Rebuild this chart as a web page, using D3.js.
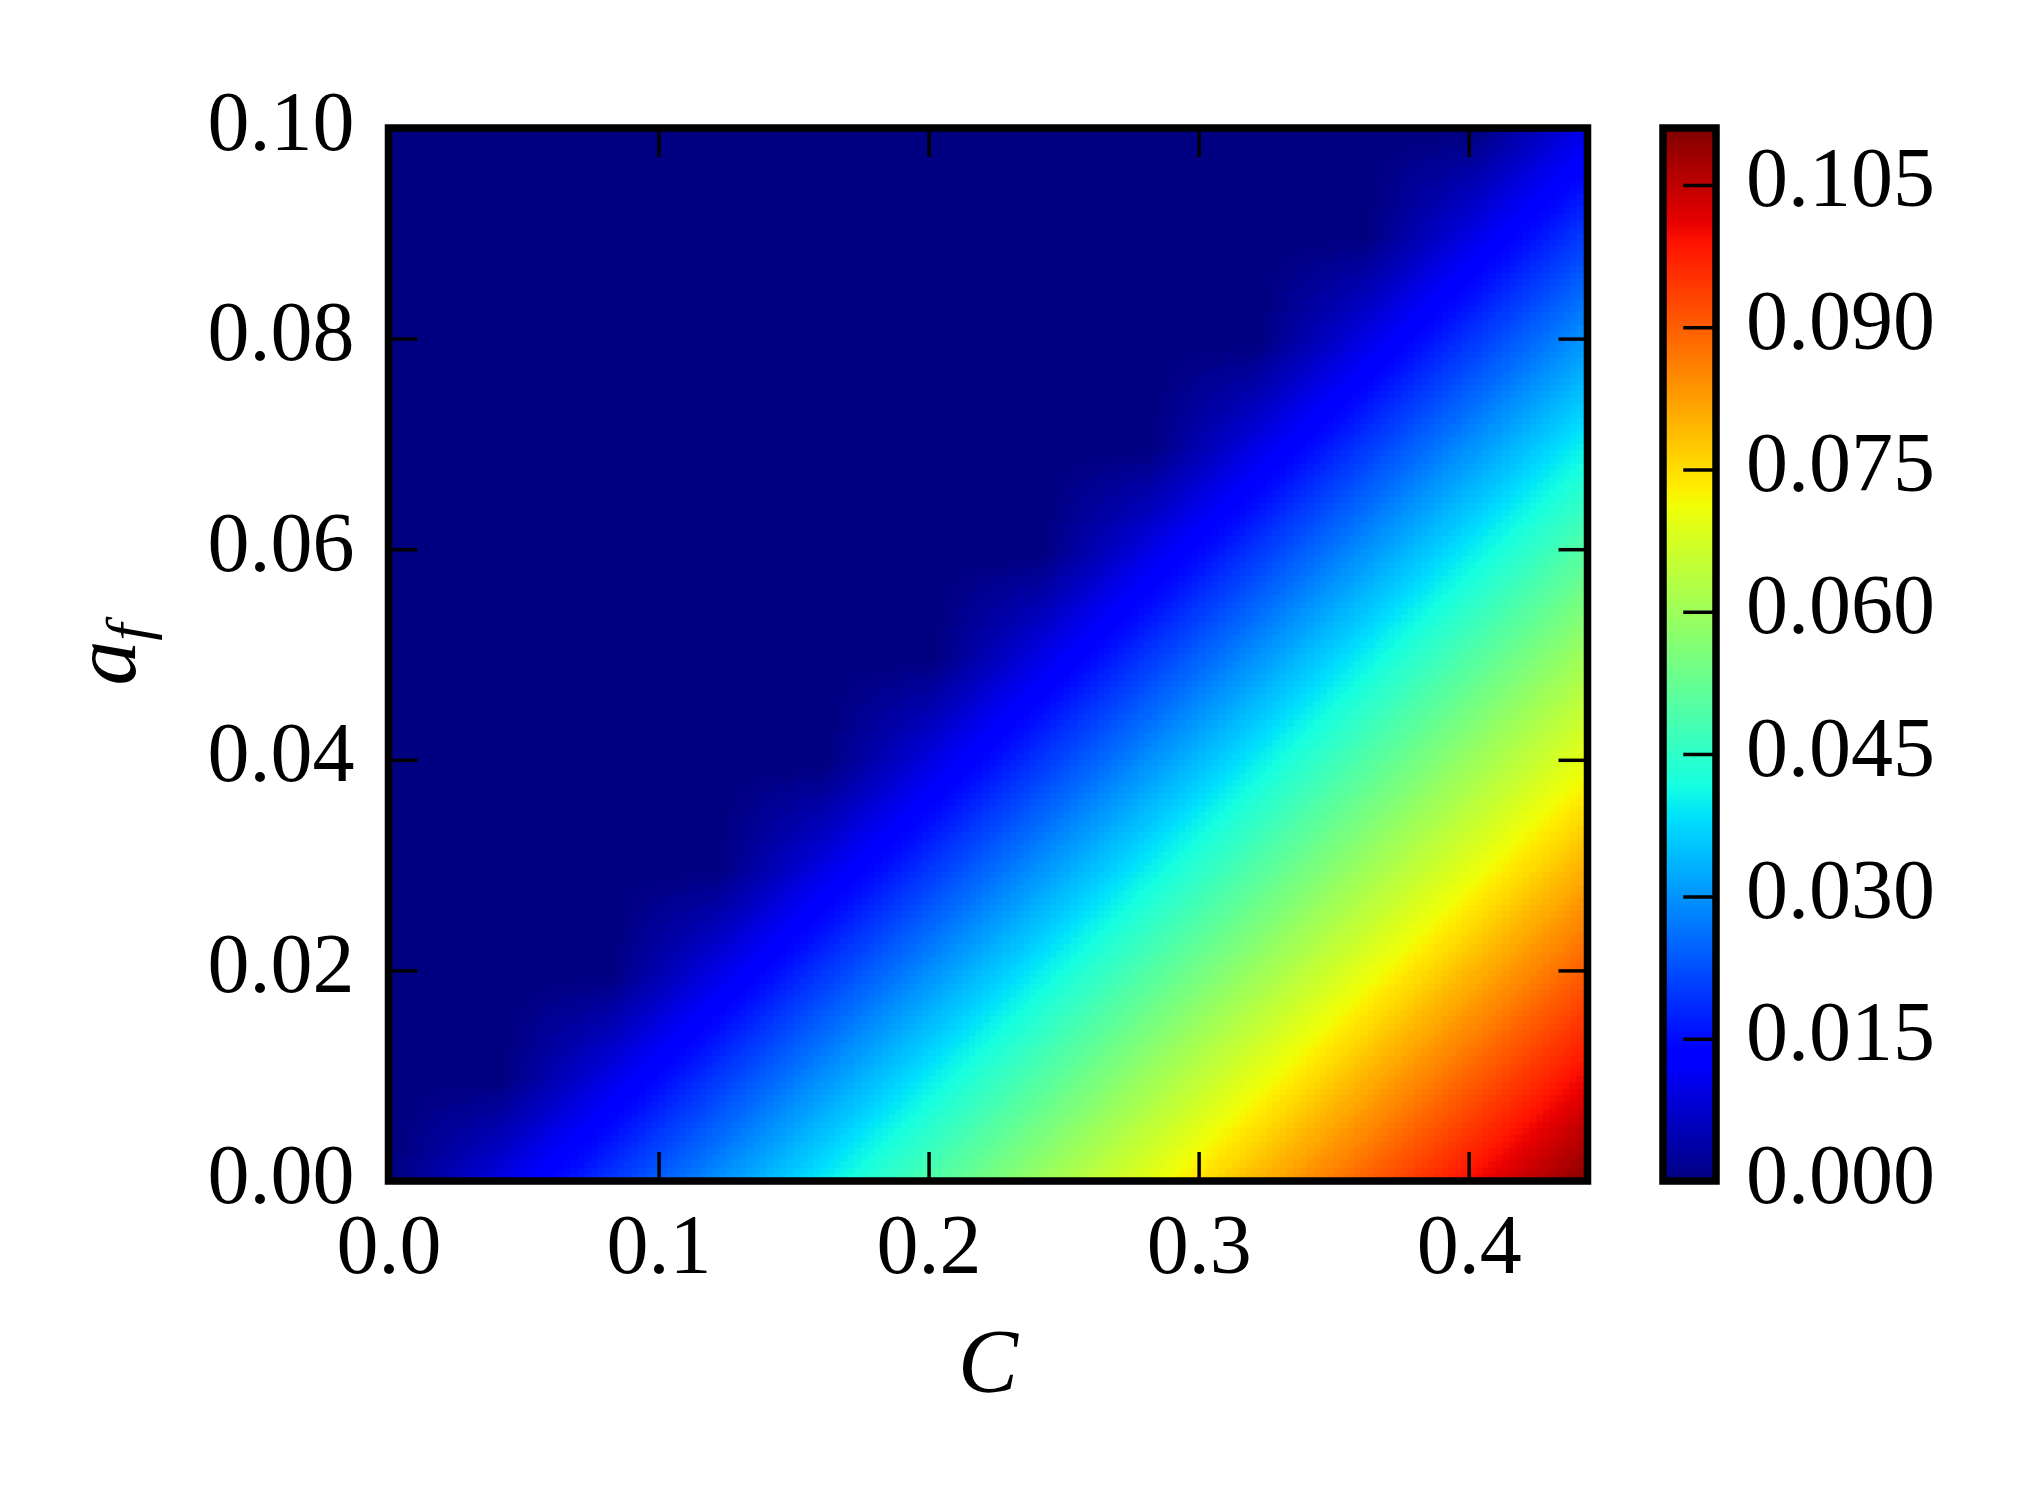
<!DOCTYPE html>
<html>
<head>
<meta charset="utf-8">
<script src="https://cdn.jsdelivr.net/npm/d3@7"></script>
<style>
  body { margin: 0; background: #fff; }
  text { font-family: "Liberation Serif", "DejaVu Serif", serif; fill: #000; }
</style>
</head>
<body>
<div id="chart"></div>
<script>
// grid: values[j][i] is the colour value at a_f = afGrid[j], C = cGrid[i]
var cGrid = [0, 0.04, 0.08, 0.12, 0.16, 0.20, 0.24, 0.28, 0.32, 0.36, 0.40, 0.44];
var afGrid = [0, 0.01, 0.02, 0.03, 0.04, 0.05, 0.06, 0.07, 0.08, 0.09, 0.10];
var values = [
  [0, 0.010, 0.020, 0.030, 0.040, 0.050, 0.060, 0.070, 0.080, 0.090, 0.100, 0.110],
  [0, 0,     0.010, 0.020, 0.030, 0.040, 0.050, 0.060, 0.070, 0.080, 0.090, 0.100],
  [0, 0,     0,     0.010, 0.020, 0.030, 0.040, 0.050, 0.060, 0.070, 0.080, 0.090],
  [0, 0,     0,     0,     0.010, 0.020, 0.030, 0.040, 0.050, 0.060, 0.070, 0.080],
  [0, 0,     0,     0,     0,     0.010, 0.020, 0.030, 0.040, 0.050, 0.060, 0.070],
  [0, 0,     0,     0,     0,     0,     0.010, 0.020, 0.030, 0.040, 0.050, 0.060],
  [0, 0,     0,     0,     0,     0,     0,     0.010, 0.020, 0.030, 0.040, 0.050],
  [0, 0,     0,     0,     0,     0,     0,     0,     0.010, 0.020, 0.030, 0.040],
  [0, 0,     0,     0,     0,     0,     0,     0,     0,     0.010, 0.020, 0.030],
  [0, 0,     0,     0,     0,     0,     0,     0,     0,     0,     0.010, 0.020],
  [0, 0,     0,     0,     0,     0,     0,     0,     0,     0,     0,     0.010]
];
var xTicks = [0, 0.1, 0.2, 0.3, 0.4];
var yTicks = [0, 0.02, 0.04, 0.06, 0.08, 0.10];
var cbTicks = [0, 0.015, 0.030, 0.045, 0.060, 0.075, 0.090, 0.105];
var cMax = 0.444, afMax = 0.1, vMax = 0.111;

// jet colormap breakpoints
var jetStops = [0, 0.11, 0.125, 0.34, 0.35, 0.375, 0.64, 0.65, 0.66, 0.89, 0.91, 1];
var jetColors = ["rgb(0,0,128)", "rgb(0,0,255)", "rgb(0,0,255)", "rgb(0,219,255)",
  "rgb(0,230,247)", "rgb(21,255,226)", "rgb(239,255,8)", "rgb(247,246,0)",
  "rgb(255,236,0)", "rgb(255,19,0)", "rgb(232,0,0)", "rgb(128,0,0)"];

var plotL = 388.5, plotR = 1587.5, plotT = 128, plotB = 1181,
    cbLeft = 1663, cbRight = 1716,
    tickLen = 29, frameW = 7.5, tickW = 3.5, fontSize = 84;

var x = d3.scaleLinear().domain([0, cMax]).range([plotL, plotR]);
var y = d3.scaleLinear().domain([0, afMax]).range([plotB, plotT]);
var yc = d3.scaleLinear().domain([0, vMax]).range([plotB, plotT]);
var color = d3.scaleLinear()
  .domain(jetStops.map(function(t) { return t * vMax; }))
  .range(jetColors)
  .clamp(true);
var level = d3.scaleLinear().domain([0, vMax]).range([0, 255]).clamp(true);

var svg = d3.select("#chart").append("svg")
  .attr("width", 2025)
  .attr("height", 1500)
  .style("background", "#fff");

// heatmap: grid values stored as grey levels, smoothed by the browser when
// scaled up, then every pixel is coloured through the jet scale
var small = document.createElement("canvas");
small.width = cGrid.length;
small.height = afGrid.length;
var sctx = small.getContext("2d");
values.forEach(function(row, j) {
  row.forEach(function(v, i) {
    var g = Math.round(level(v));
    sctx.fillStyle = "rgb(" + g + "," + g + "," + g + ")";
    sctx.fillRect(i, afGrid.length - 1 - j, 1, 1);
  });
});

var W = Math.round(plotR - plotL), H = Math.round(plotB - plotT);
var big = document.createElement("canvas");
big.width = W;
big.height = H;
var bctx = big.getContext("2d");
bctx.imageSmoothingEnabled = true;
bctx.imageSmoothingQuality = "low";
var cellW = x(cGrid[1]) - x(cGrid[0]),
    cellH = y(afGrid[0]) - y(afGrid[1]);
bctx.drawImage(small,
  x(cGrid[0]) - cellW / 2 - plotL,
  y(afGrid[afGrid.length - 1]) - cellH / 2 - plotT,
  cellW * cGrid.length,
  cellH * afGrid.length);

var lut = d3.range(256).map(function(g) { return d3.rgb(color(level.invert(g))); });
var img = bctx.getImageData(0, 0, W, H);
for (var p = 0; p < img.data.length; p += 4) {
  var c = lut[img.data[p]];
  img.data[p] = c.r;
  img.data[p + 1] = c.g;
  img.data[p + 2] = c.b;
  img.data[p + 3] = 255;
}
bctx.putImageData(img, 0, 0);

svg.append("image")
  .attr("x", plotL)
  .attr("y", plotT)
  .attr("width", W)
  .attr("height", H)
  .attr("preserveAspectRatio", "none")
  .attr("href", big.toDataURL());

// axes, ticks pointing inward
function style(g) {
  g.select(".domain").remove();
  g.selectAll(".tick line").attr("stroke", "#000").attr("stroke-width", tickW);
  g.selectAll(".tick text").attr("font-family", null).attr("font-size", fontSize).attr("fill", "#000");
}

svg.append("g")
  .attr("transform", "translate(0," + plotB + ")")
  .call(d3.axisBottom(x).tickValues(xTicks).tickFormat(d3.format(".1f")).tickSize(-tickLen).tickSizeOuter(0))
  .call(style)
  .call(function(g) { g.selectAll(".tick text").attr("dy", null).attr("y", 92); });

svg.append("g")
  .attr("transform", "translate(" + plotL + ",0)")
  .call(d3.axisLeft(y).tickValues(yTicks).tickFormat(d3.format(".2f")).tickSize(-tickLen).tickSizeOuter(0))
  .call(style)
  .call(function(g) { g.selectAll(".tick text").attr("dy", null).attr("x", -34).attr("y", 21); });

svg.append("g")
  .attr("transform", "translate(0," + plotT + ")")
  .call(d3.axisTop(x).tickValues(xTicks).tickFormat("").tickSize(-tickLen).tickSizeOuter(0))
  .call(style);

svg.append("g")
  .attr("transform", "translate(" + plotR + ",0)")
  .call(d3.axisRight(y).tickValues(yTicks).tickFormat("").tickSize(-tickLen).tickSizeOuter(0))
  .call(style);

svg.append("rect")
  .attr("x", plotL).attr("y", plotT)
  .attr("width", plotR - plotL).attr("height", plotB - plotT)
  .attr("fill", "none").attr("stroke", "#000").attr("stroke-width", frameW);

// axis labels
svg.append("text")
  .attr("x", (plotL + plotR) / 2)
  .attr("y", 1392)
  .attr("text-anchor", "middle")
  .attr("font-size", 90)
  .attr("font-style", "italic")
  .text("C");

var yl = svg.append("text")
  .attr("transform", "translate(135," + (plotT + plotB) / 2 + ") rotate(-90)")
  .attr("text-anchor", "middle")
  .attr("font-size", 90)
  .attr("font-style", "italic");
yl.append("tspan").text("a");
yl.append("tspan").attr("font-size", 62).attr("dy", 14).text("f");

// colorbar
var defs = svg.append("defs");
var grad = defs.append("linearGradient")
  .attr("id", "jet")
  .attr("x1", 0).attr("y1", 1).attr("x2", 0).attr("y2", 0);
grad.selectAll("stop")
  .data(jetStops)
  .enter().append("stop")
  .attr("offset", function(d) { return d; })
  .attr("stop-color", function(d) { return color(d * vMax); });

svg.append("rect")
  .attr("x", cbLeft).attr("y", yc(vMax))
  .attr("width", cbRight - cbLeft).attr("height", yc(0) - yc(vMax))
  .attr("fill", "url(#jet)");

svg.append("g")
  .attr("transform", "translate(" + cbRight + ",0)")
  .call(d3.axisRight(yc).tickValues(cbTicks).tickFormat(d3.format(".3f")).tickSize(-(tickLen + frameW / 2)).tickSizeOuter(0))
  .call(style)
  .call(function(g) { g.selectAll(".tick text").attr("dy", null).attr("x", 30).attr("y", 21); });

svg.append("rect")
  .attr("x", cbLeft).attr("y", yc(vMax))
  .attr("width", cbRight - cbLeft).attr("height", yc(0) - yc(vMax))
  .attr("fill", "none").attr("stroke", "#000").attr("stroke-width", frameW);
</script>
</body>
</html>
